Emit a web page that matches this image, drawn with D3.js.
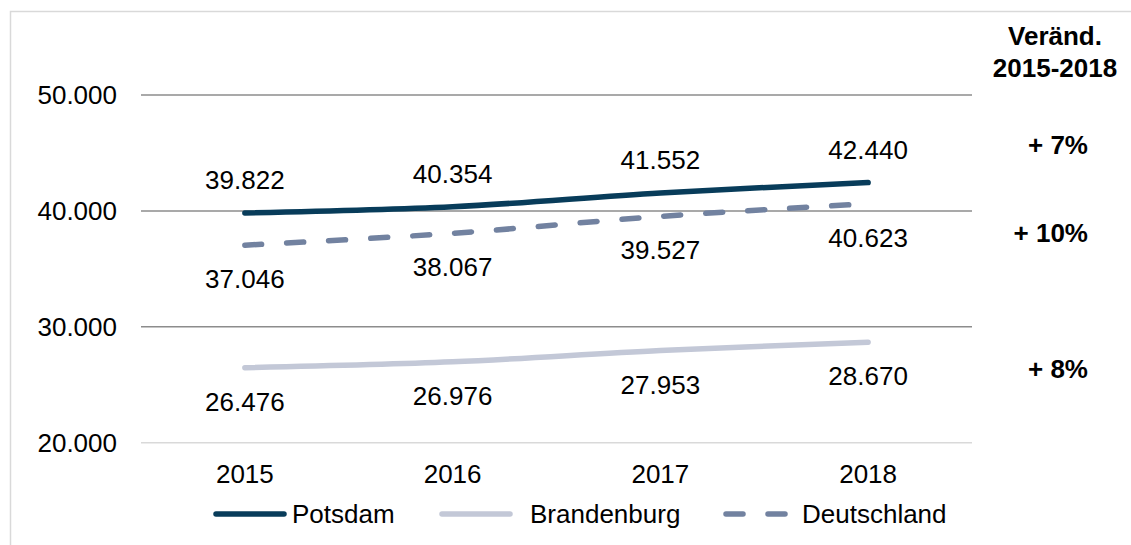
<!DOCTYPE html>
<html>
<head>
<meta charset="utf-8">
<script src="https://cdn.jsdelivr.net/npm/d3@7"></script>
<style>
  body { margin: 0; background: #fff; }
  text { font-family: "Liberation Sans", Arial, sans-serif; }
</style>
</head>
<body>
<div id="chart"></div>
<script>
// values
var years = ["2015", "2016", "2017", "2018"];
var potsdam = [39822, 40354, 41552, 42440];
var brandenburg = [26476, 26976, 27953, 28670];
var deutschland = [37046, 38067, 39527, 40623];
var yTicks = [20000, 30000, 40000, 50000];
var changeLabels = ["+ 7%", "+ 10%", "+ 8%"];
var changeHeader = ["Veränd.", "2015-2018"];

var w = 1131, h = 545;

var svg = d3.select("#chart").append("svg")
    .attr("width", w)
    .attr("height", h);

// outer frame (runs off the right and bottom edge)
svg.append("rect")
    .attr("x", 10.5).attr("y", 11.5)
    .attr("width", 1140).attr("height", 560)
    .attr("fill", "none")
    .attr("stroke", "#d9d9d9")
    .attr("stroke-width", 1.5);

var x = d3.scaleBand()
    .domain(years)
    .range([141, 972]);

var y = d3.scaleLinear()
    .domain([20000, 50000])
    .range([442.7, 95]);

var fmt = d3.formatLocale({decimal: ",", thousands: ".", grouping: [3], currency: ["", "€"]}).format(",.0f");

// gridlines
svg.selectAll(".grid")
    .data(yTicks)
    .enter().append("line")
    .attr("x1", 141).attr("x2", 972)
    .attr("y1", function(d) { return y(d); })
    .attr("y2", function(d) { return y(d); })
    .attr("stroke", function(d) { return d == 20000 ? "#d9d9d9" : "#8c8c8c"; })
    .attr("stroke-width", 1.5);

// y axis labels
var yaxis = svg.append("g")
    .attr("transform", "translate(141,0)")
    .call(d3.axisLeft(y).tickValues(yTicks).tickSize(0).tickPadding(24).tickFormat(fmt));
yaxis.select(".domain").remove();
yaxis.selectAll("text")
    .style("font-family", "Liberation Sans, Arial, sans-serif")
    .style("font-size", "26px")
    .attr("fill", "#000");

// x axis labels
var xaxis = svg.append("g")
    .attr("transform", "translate(0,442.7)")
    .call(d3.axisBottom(x).tickSize(0).tickPadding(22));
xaxis.select(".domain").remove();
xaxis.selectAll("text")
    .style("font-family", "Liberation Sans, Arial, sans-serif")
    .style("font-size", "26px")
    .attr("fill", "#000");

var cx = function(i) { return x(years[i]) + x.bandwidth() / 2; };

var series = [
  {name: "Brandenburg", values: brandenburg, color: "#c3c8d7", dash: null, labelPos: "below"},
  {name: "Deutschland", values: deutschland, color: "#7282a0", dash: "17,25", labelPos: "below"},
  {name: "Potsdam", values: potsdam, color: "#083c5a", dash: null, labelPos: "above"}
];

var line = d3.line()
    .x(function(d, i) { return cx(i); })
    .y(function(d) { return y(d); })
    .curve(d3.curveCatmullRom.alpha(0.5));

series.forEach(function(s) {
  svg.append("path")
      .datum(s.values)
      .attr("d", line)
      .attr("fill", "none")
      .attr("stroke", s.color)
      .attr("stroke-width", 5.5)
      .attr("stroke-linecap", "round")
      .attr("stroke-dasharray", s.dash);

  svg.selectAll(".lbl-" + s.name)
      .data(s.values)
      .enter().append("text")
      .attr("x", function(d, i) { return cx(i); })
      .attr("y", function(d) { return s.labelPos == "above" ? y(d) - 24 : y(d) + 43; })
      .attr("text-anchor", "middle")
      .style("font-size", "26px")
      .attr("fill", "#000")
      .text(function(d) { return fmt(d); });
});

// change column
svg.selectAll(".hdr")
    .data(changeHeader)
    .enter().append("text")
    .attr("x", 1055)
    .attr("y", function(d, i) { return 45 + i * 32; })
    .attr("text-anchor", "middle")
    .style("font-size", "26px")
    .style("font-weight", "bold")
    .text(function(d) { return d; });

var changeY = [154, 242, 378];
svg.selectAll(".chg")
    .data(changeLabels)
    .enter().append("text")
    .attr("x", 1088)
    .attr("y", function(d, i) { return changeY[i]; })
    .attr("text-anchor", "end")
    .style("font-size", "26px")
    .style("font-weight", "bold")
    .text(function(d) { return d; });

// legend
var legendItems = [
  {name: "Potsdam", color: "#083c5a", dash: null, x1: 216, x2: 284, tx: 292},
  {name: "Brandenburg", color: "#c3c8d7", dash: null, x1: 442, x2: 510, tx: 530},
  {name: "Deutschland", color: "#7282a0", dash: "17,25", x1: 726, x2: 786, tx: 802}
];
var legend = svg.append("g");
legend.selectAll("line")
    .data(legendItems)
    .enter().append("line")
    .attr("x1", function(d) { return d.x1; })
    .attr("x2", function(d) { return d.x2; })
    .attr("y1", 514).attr("y2", 514)
    .attr("stroke", function(d) { return d.color; })
    .attr("stroke-width", 5.5)
    .attr("stroke-linecap", "round")
    .attr("stroke-dasharray", function(d) { return d.dash; });
legend.selectAll("text")
    .data(legendItems)
    .enter().append("text")
    .attr("x", function(d) { return d.tx; })
    .attr("y", 523)
    .style("font-size", "26px")
    .text(function(d) { return d.name; });
</script>
</body>
</html>
